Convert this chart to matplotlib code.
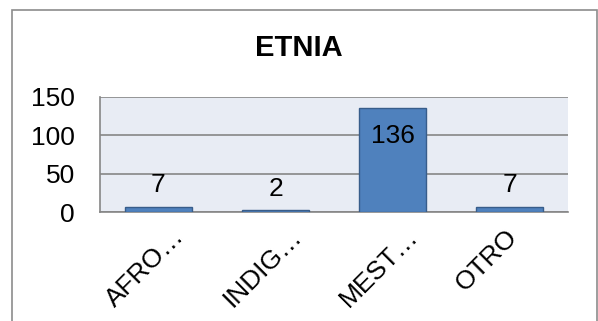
import matplotlib
matplotlib.use("Agg")
import matplotlib.pyplot as plt
import matplotlib.transforms as mtransforms
from matplotlib.patches import Rectangle

plt.rcParams['font.family'] = ['Liberation Sans', 'DejaVu Sans']

categorias = ["AFRO…", "INDIG…", "MEST…", "OTRO"]
valores = [7, 2, 136, 7]
yticks = [0, 50, 100, 150]

fig = plt.figure(figsize=(5.98, 3.21), dpi=100)
ax = fig.add_axes([100/598, 1 - 212/321, 468/598, 115/321])

x = range(len(categorias))
ax.bar(x, valores, width=0.58, color="#4F81BD", edgecolor="#385D8A", linewidth=1, zorder=3)
ax.set_facecolor("#E8ECF4")
ax.set_xlim(-0.5, len(categorias) - 0.5)
ax.set_ylim(0, 150)
ax.set_yticks(yticks)
ax.set_yticklabels([str(t) for t in yticks], fontsize=19)
ax.set_xticks(list(x))
ax.set_xticklabels(categorias, fontsize=19, rotation=45, ha="right", va="center",
                   rotation_mode="anchor")
ax.tick_params(axis="y", length=0, pad=18)
ax.tick_params(axis="x", length=0, pad=15)

# las etiquetas recortadas con "…" acaban un poco a la derecha de su marca
for lbl in ax.get_xticklabels():
    dx = 16 if lbl.get_text().endswith("…") else 3
    off = mtransforms.ScaledTranslation(dx / 72, 0, fig.dpi_scale_trans)
    lbl.set_transform(lbl.get_transform() + off)

ax.grid(axis="y", color="#868686", linewidth=1.2, zorder=1)
for s in ["top", "right"]:
    ax.spines[s].set_visible(False)
for s in ["left", "bottom"]:
    ax.spines[s].set_color("#868686")
    ax.spines[s].set_linewidth(1.2)

# etiquetas de valor: encima de la barra, o dentro si no cabe
for i, v in enumerate(valores):
    if v > 120:
        ax.text(i, v - 37, str(v), ha="center", va="center", fontsize=19, zorder=4)
    else:
        ax.text(i, v + 28, str(v), ha="center", va="center", fontsize=19, zorder=4)

fig.text(0.5, 1 - 48/321, "ETNIA", ha="center", va="center", fontsize=21, fontweight="bold")

# marco exterior del grafico
fig.patches.append(Rectangle((12/598, -0.05), 585/598, 1.05 - 10/321, transform=fig.transFigure,
                             fill=False, edgecolor="#8C8C8C", linewidth=1.2))

fig.savefig("out.png", dpi=100)
